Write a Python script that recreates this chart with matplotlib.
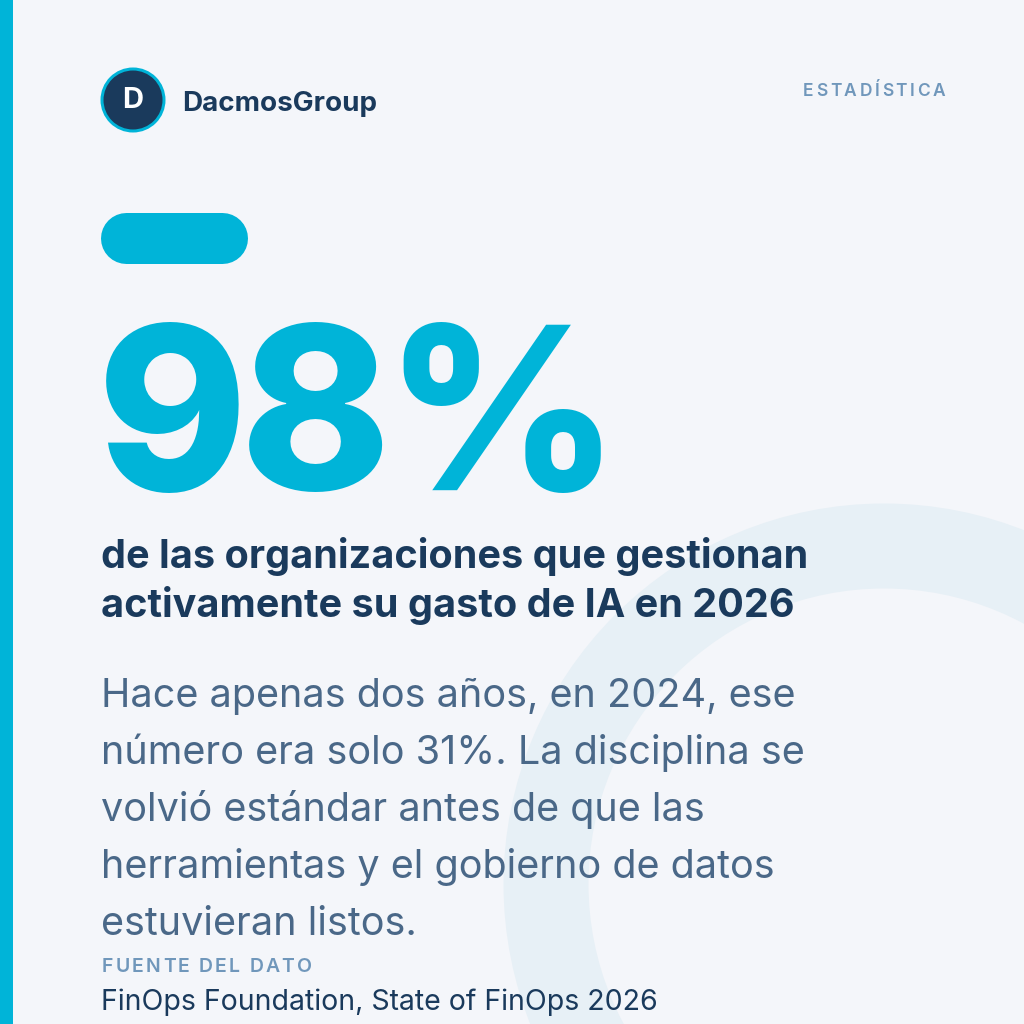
import matplotlib
matplotlib.use("Agg")
import matplotlib.pyplot as plt
from matplotlib.patches import Circle, Rectangle

# ---- data ----
brand = "DacmosGroup"
category_label = "ESTADÍSTICA"
stat_2026 = 98
stat_2024 = 31
year_now = 2026
year_before = 2024
headline_lines = ["de las organizaciones que gestionan",
                  f"activamente su gasto de IA en {year_now}"]
body_lines = [f"Hace apenas dos años, en {year_before}, ese",
              f"número era solo {stat_2024}%. La disciplina se",
              "volvió estándar antes de que las",
              "herramientas y el gobierno de datos",
              "estuvieran listos."]
source_label = "FUENTE DEL DATO"
source_text = "FinOps Foundation, State of FinOps 2026"

# ---- style ----
BG = "#F4F6FA"
CYAN = "#00B4D8"
NAVY = "#1A3A5C"
BODY = "#4A6888"
MUTED = "#7097BB"
RING = "#E7F0F6"
FONT = ["Inter", "DejaVu Sans"]
PX = 72 / 100  # points per pixel

fig = plt.figure(figsize=(10.24, 10.24), dpi=100)
fig.patch.set_facecolor(BG)
ax = fig.add_axes([0, 0, 1, 1])
ax.set_xlim(0, 1024)
ax.set_ylim(1024, 0)
ax.axis("off")
ax.set_facecolor(BG)

# decorative ring
ax.add_patch(Circle((884, 884), 338, fill=False, edgecolor=RING, linewidth=85 * PX, zorder=0))

# left stripe
ax.add_patch(Rectangle((0, 0), 13, 1024, color=CYAN, lw=0, zorder=1))

# logo
ax.add_patch(Circle((133, 100), 31, facecolor=NAVY, edgecolor=CYAN, linewidth=3 * PX, zorder=2))
ax.text(133, 101, "D", family=FONT, weight="bold", fontsize=21, color="white",
        ha="center", va="center", zorder=3)
ax.text(182, 111, brand, family=FONT, weight="bold", fontsize=20, color=NAVY,
        ha="left", va="baseline", zorder=3)

fig.canvas.draw()
renderer = fig.canvas.get_renderer()


def spaced_text(x, y, s, spacing, align="left", **kw):
    # draw characters one by one with extra tracking (pixels)
    widths = []
    tmp = []
    for ch in s:
        t = ax.text(0, y, ch, va="baseline", ha="left", zorder=3, **kw)
        if ch == " ":
            t2 = ax.text(0, y, "a a", va="baseline", ha="left", **kw)
            t3 = ax.text(0, y, "aa", va="baseline", ha="left", **kw)
            w = t2.get_window_extent(renderer).width - t3.get_window_extent(renderer).width
            t2.remove(); t3.remove()
        else:
            w = t.get_window_extent(renderer).width
        widths.append(w)
        tmp.append(t)
    total = sum(widths) + spacing * (len(s) - 1)
    cx = x - total if align == "right" else x
    for t, w in zip(tmp, widths):
        t.set_x(cx)
        cx += w + spacing


spaced_text(945, 96, category_label, 2.6, align="right", family=FONT, weight="semibold",
            fontsize=12.5, color=MUTED)

# pill (thick line with round caps)
ax.plot([125.5, 221.5], [237.5, 237.5], color=CYAN, linewidth=51 * PX,
        solid_capstyle="round", zorder=2)

# big number (tight tracking)
spaced_text(97, 490, f"{stat_2026}%", -7.5, family=FONT, weight=800, fontsize=164, color=CYAN)

# headline
for i, line in enumerate(headline_lines):
    ax.text(101, 568 + i * 49, line, family=FONT, weight="bold", fontsize=28.5, color=NAVY,
            ha="left", va="baseline", zorder=3)

# body
for i, line in enumerate(body_lines):
    ax.text(101, 707 + i * 57, line, family=FONT, weight="normal", fontsize=28.5, color=BODY,
            ha="left", va="baseline", zorder=3)

# source
spaced_text(102, 972, source_label, 2.2, family=FONT, weight="semibold", fontsize=14, color=MUTED)
ax.text(101, 1010, source_text, family=FONT, weight="normal", fontsize=20.5, color=NAVY,
        ha="left", va="baseline", zorder=3)

fig.savefig("out.png", dpi=100, facecolor=BG)
